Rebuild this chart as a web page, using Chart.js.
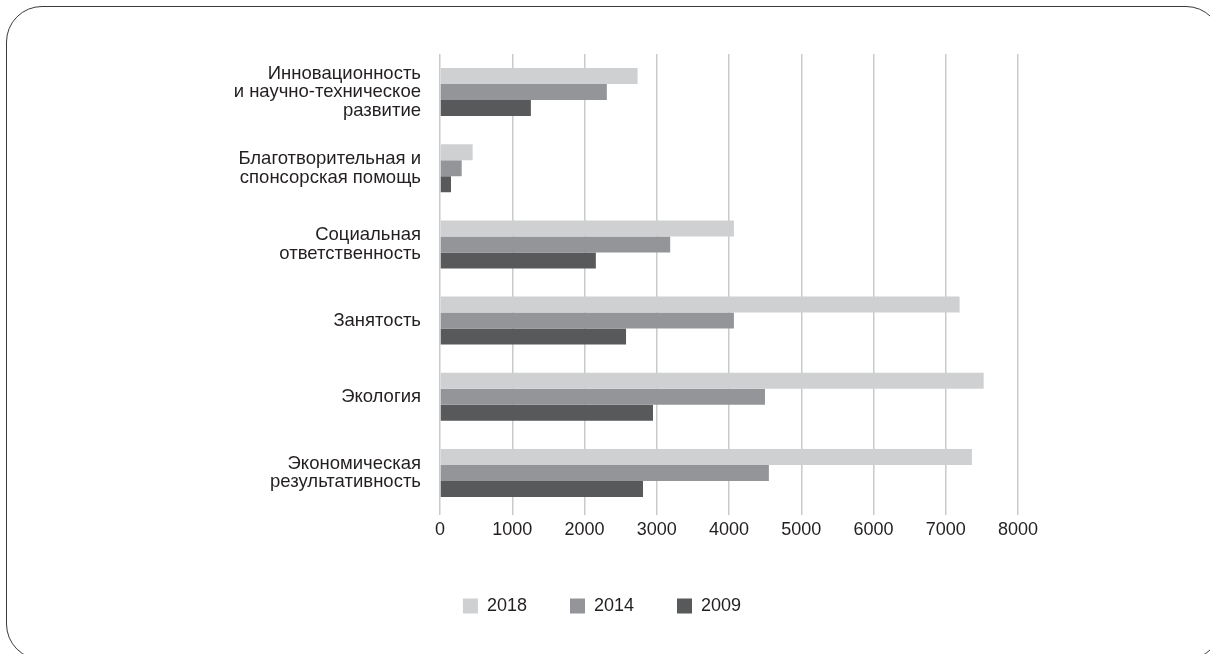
<!DOCTYPE html>
<html lang="ru">
<head>
<meta charset="utf-8">
<title>Показатели</title>
<script src="https://cdn.jsdelivr.net/npm/chart.js@4.4.1/dist/chart.umd.min.js"></script>
<style>
    html, body {
        margin: 0;
        padding: 0;
        background: #ffffff;
        width: 1210px;
        height: 654px;
        overflow: hidden;
    }
    .frame {
        position: absolute;
        left: 6px;
        top: 6px;
        width: 1216px;
        height: 654px;
        border: 1.5px solid #3a3a3a;
        border-radius: 36px;
        box-sizing: border-box;
    }
    .chart-box {
        position: absolute;
        left: 0;
        top: 0;
        width: 1210px;
        height: 654px;
    }
</style>
</head>
<body>
<div class="frame"></div>
<div class="chart-box">
    <canvas id="barChartCanvas" width="1210" height="654"></canvas>
</div>
<script>
// Категории (сверху вниз)
const categories = [
    ['Инновационность', 'и научно-техническое', 'развитие'],
    ['Благотворительная и', 'спонсорская помощь'],
    ['Социальная', 'ответственность'],
    'Занятость',
    'Экология',
    ['Экономическая', 'результативность']
];

// Значения по годам
const values2018 = [2735, 452, 4068, 7192, 7525, 7362];
const values2014 = [2309, 300, 3186, 4068, 4498, 4552];
const values2009 = [1258, 152, 2157, 2575, 2948, 2810];

// Подписи оси X
const xTicks = [0, 1000, 2000, 3000, 4000, 5000, 6000, 7000, 8000];

const seriesLabels = ['2018', '2014', '2009'];
const seriesColors = ['#cfd0d2', '#939598', '#58595b'];

const textColor = '#231f20';
const gridColor = '#c9cacc';
const fontFamily = '"Liberation Sans", Arial, Helvetica, sans-serif';

const ctx = document.getElementById('barChartCanvas');

new Chart(ctx, {
    type: 'bar',
    data: {
        labels: categories,
        datasets: [
            { label: seriesLabels[0], data: values2018, backgroundColor: seriesColors[0] },
            { label: seriesLabels[1], data: values2014, backgroundColor: seriesColors[1] },
            { label: seriesLabels[2], data: values2009, backgroundColor: seriesColors[2] }
        ]
    },
    options: {
        indexAxis: 'y',
        responsive: false,
        animation: false,
        devicePixelRatio: 1,
        datasets: {
            bar: {
                barPercentage: 1,
                categoryPercentage: 0.63,
                borderWidth: 0
            }
        },
        layout: {
            padding: { top: 54, right: 6, bottom: 29, left: 0 }
        },
        plugins: {
            legend: {
                position: 'bottom',
                labels: {
                    boxWidth: 15,
                    boxHeight: 15,
                    padding: 43,
                    color: textColor,
                    font: { family: fontFamily, size: 18 }
                }
            },
            tooltip: { enabled: false }
        },
        scales: {
            x: {
                type: 'linear',
                min: 0,
                max: 8000,
                afterBuildTicks: (scale) => {
                    scale.ticks = xTicks.map(v => ({ value: v }));
                },
                afterFit: (scale) => {
                    scale.height = 43;
                },
                grid: {
                    color: gridColor,
                    lineWidth: 1.5,
                    tickLength: 4
                },
                border: { display: false },
                ticks: {
                    color: textColor,
                    padding: 4,
                    font: { family: fontFamily, size: 18 },
                    callback: (value) => String(value)
                }
            },
            y: {
                afterFit: (scale) => {
                    scale.width = 440;
                },
                grid: { display: false, drawTicks: false },
                border: { display: false },
                ticks: {
                    color: textColor,
                    padding: 19,
                    font: { family: fontFamily, size: 18.5, lineHeight: 1.0 }
                }
            },
            yRight: {
                type: 'category',
                position: 'right',
                afterFit: (scale) => {
                    scale.width = 186;
                },
                grid: { display: false, drawTicks: false },
                border: { display: false },
                ticks: { display: false }
            }
        }
    }
});
</script>
</body>
</html>
